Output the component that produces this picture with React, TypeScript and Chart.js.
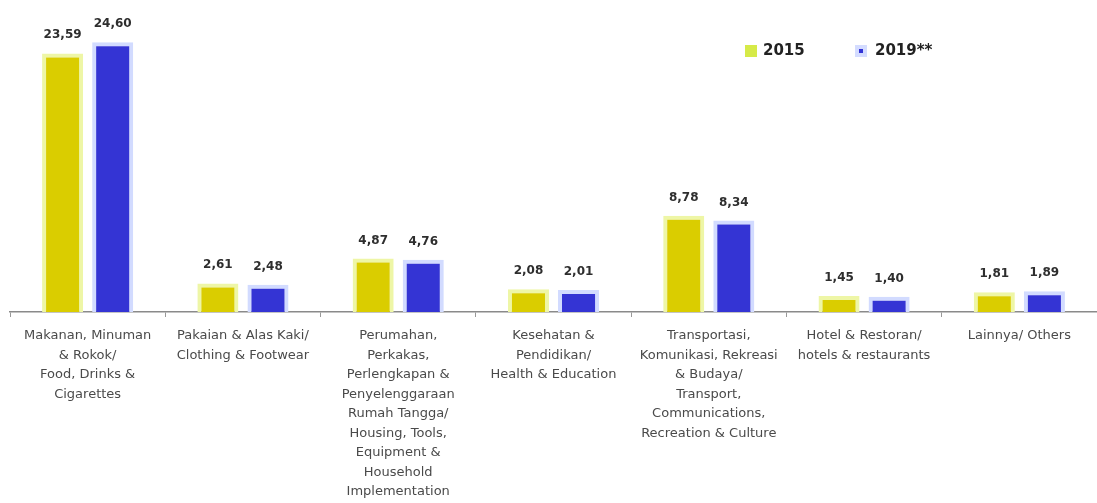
import { useEffect, useRef } from "react";
import { Chart, registerables } from "chart.js";

Chart.register(...registerables);

const categories: string[][] = [
  ["Makanan, Minuman", "& Rokok/", "Food, Drinks &", "Cigarettes"],
  ["Pakaian & Alas Kaki/", "Clothing & Footwear"],
  ["Perumahan,", "Perkakas,", "Perlengkapan &", "Penyelenggaraan", "Rumah Tangga/", "Housing, Tools,", "Equipment &", "Household", "Implementation"],
  ["Kesehatan &", "Pendidikan/", "Health & Education"],
  ["Transportasi,", "Komunikasi, Rekreasi", "& Budaya/", "Transport,", "Communications,", "Recreation & Culture"],
  ["Hotel & Restoran/", "hotels & restaurants"],
  ["Lainnya/ Others"],
];

const values2015: number[] = [23.59, 2.61, 4.87, 2.08, 8.78, 1.45, 1.81];
const values2019: number[] = [24.6, 2.48, 4.76, 2.01, 8.34, 1.4, 1.89];
const seriesNames: string[] = ["2015", "2019**"];

const fmt = (v: number) => v.toFixed(2).replace(".", ",");

const valueLabelPlugin = {
  id: "valueLabels",
  afterDatasetsDraw(chart: any) {
    const ctx = chart.ctx;
    ctx.save();
    ctx.font = "bold 12px 'DejaVu Sans'";
    ctx.fillStyle = "#2e2e2e";
    ctx.textAlign = "center";
    ctx.textBaseline = "alphabetic";
    chart.data.datasets.forEach((ds: any, i: number) => {
      const meta = chart.getDatasetMeta(i);
      meta.data.forEach((bar: any, j: number) => {
        ctx.fillText(fmt(ds.data[j]), bar.x, bar.y - 15);
      });
    });
    ctx.restore();
  },
};

const legendPlugin = {
  id: "customLegend",
  afterDraw(chart: any) {
    const ctx = chart.ctx;
    ctx.save();
    ctx.font = "bold 15px 'DejaVu Sans'";
    ctx.textBaseline = "middle";
    ctx.textAlign = "left";
    const y = 51;
    ctx.fillStyle = "#d6ea48";
    ctx.fillRect(745, y - 6, 12, 12);
    ctx.fillStyle = "#222222";
    ctx.fillText(chart.data.datasets[0].label, 763, y);
    ctx.fillStyle = "#d4dcff";
    ctx.fillRect(855, y - 6, 12, 12);
    ctx.fillStyle = "#3333d6";
    ctx.fillRect(859, y - 2, 4, 4);
    ctx.fillStyle = "#222222";
    ctx.fillText(chart.data.datasets[1].label, 875, y);
    ctx.restore();
  },
};

export default function App() {
  const canvasRef = useRef<HTMLCanvasElement | null>(null);

  useEffect(() => {
    if (!canvasRef.current) return;
    const chart = new Chart(canvasRef.current, {
      type: "bar",
      data: {
        labels: categories,
        datasets: [
          {
            label: seriesNames[0],
            data: values2015,
            backgroundColor: "#dacd00",
            borderColor: "#eef6a6",
            borderWidth: 4,
            categoryPercentage: 0.645,
            barPercentage: 0.82,
          },
          {
            label: seriesNames[1],
            data: values2019,
            backgroundColor: "#3434d4",
            borderColor: "#d2dbff",
            borderWidth: 4,
            categoryPercentage: 0.645,
            barPercentage: 0.82,
          },
        ],
      },
      options: {
        responsive: false,
        animation: false,
        layout: { padding: { left: 10, right: -5, top: 16, bottom: 0 } },
        plugins: {
          legend: { display: false },
          tooltip: { enabled: false },
        },
        scales: {
          x: {
            offset: true,
            grid: {
              display: true,
              offset: true,
              drawOnChartArea: false,
              drawTicks: true,
              tickLength: 5,
              color: "#999999",
            },
            border: { display: true, color: "#8a8a8a", width: 1.5 },
            ticks: {
              autoSkip: false,
              maxRotation: 0,
              minRotation: 0,
              padding: 9,
              color: "#4a4a4a",
              font: { family: "'DejaVu Sans'", size: 13, lineHeight: "19.5px" },
            },
            afterFit(scale: any) {
              scale.height = 191;
            },
          },
          y: {
            display: false,
            min: 0,
            max: 27,
          },
        },
      },
      plugins: [valueLabelPlugin, legendPlugin],
    });
    return () => chart.destroy();
  }, []);

  return (
    <div style={{ position: "absolute", left: 0, top: 0, width: 1097, height: 503, background: "#ffffff" }}>
      <canvas ref={canvasRef} width={1097} height={503} />
    </div>
  );
}
